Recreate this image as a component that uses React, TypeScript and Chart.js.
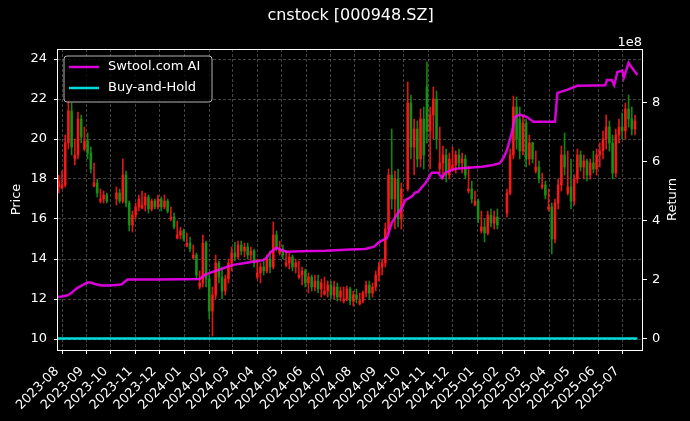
import React, { useEffect, useRef } from 'react';
import { Chart, registerables } from 'chart.js';

Chart.register(...registerables);

// ---- data ----
const TITLE = 'cnstock [000948.SZ]';
const MONTH_LABELS = [
  '2023-08', '2023-09', '2023-10', '2023-11', '2023-12', '2024-01', '2024-02', '2024-03',
  '2024-04', '2024-05', '2024-06', '2024-07', '2024-08', '2024-09', '2024-10', '2024-11',
  '2024-12', '2025-01', '2025-02', '2025-03', '2025-04', '2025-05', '2025-06', '2025-07',
];
// days since 2023-08-01 of each month start
const MONTH_DAYS = [
  0, 31, 61, 92, 122, 153, 184, 213, 244, 274, 305, 335,
  366, 397, 427, 458, 488, 519, 550, 578, 609, 639, 670, 700,
];
const PRICE_TICKS = [10, 12, 14, 16, 18, 20, 22, 24];
const RETURN_TICKS = [0, 2e8, 4e8, 6e8, 8e8];

// candles: one every 4 days starting at day -4 (null = market closed)
const CANDLE_START_DAY = -4;
const CANDLE_STEP_DAYS = 4;
const OPEN = [
  17.6, 17.55, 17.7, 19.8, 21.4, 19.0, 19.2, 21.0, 19.5, 19.9,
  19.3, 17.65, 17.8, 16.9, 17.0, 17.2, null, null, 17.0, 17.3,
  16.9, 18.2, 16.8, 15.7, 16.2, 16.6, 16.55, 16.7, 17.1, 16.5,
  16.9, 16.6, 17.0, 16.6, 16.9, 16.0, 16.1, 15.05, 15.2, 15.4,
  14.65, 14.8, 14.05, 14.2, 12.6, 12.8, 14.8, 13.0, 11.4, 12.2,
  13.8, 13.1, 12.4, 13.0, 13.8, 14.3, 14.1, 14.7, 14.4, 14.6,
  14.2, 14.4, 13.1, 13.3, 13.6, 13.4, 14.0, 13.6, 15.2, 14.3,
  14.5, 13.7, 13.8, 14.1, 13.6, 13.1, 13.2, 13.4, 12.8, 13.1,
  12.6, 12.9, 12.5, 12.25, 12.4, 12.7, 12.2, 12.6, 12.1, 11.9,
  12.0, 12.5, 11.9, 12.2, 11.75, 11.9, 12.3, 12.7, 12.3, 12.6,
  13.2, 13.6, 13.8, 15.5, 18.2, 17.0, 18.0, 16.0, null, 17.5,
  21.8, 19.6, 20.5, 19.0, 21.0, 22.6, 20.4, 21.2, 22.0, 18.5,
  18.8, 19.2, 18.2, 18.5, 18.7, 19.2, 18.8, 19.0, 17.4, 17.5,
  16.7, 16.9, 15.4, 15.6, 15.3, 16.2, 15.8, 16.1, null, null,
  16.3, 17.3, 19.2, 21.6, 21.0, 19.4, 20.8, 19.0, 19.8, 18.4,
  18.6, 17.6, 17.7, 16.5, 16.6, 15.0, 16.8, 17.7, 19.2, 17.3,
  17.6, 16.9, 18.0, 19.2, 18.6, 18.9, 18.2, 18.8, 18.5, 19.2,
  19.4, 20.0, 20.6, 19.8, 18.3, 20.2, 20.6, 20.4, 21.5, 21.0, 20.5,
];
const HIGH = [
  18.2, 18.4, 20.2, 22.0, 21.8, 20.0, 21.35, 21.2, 20.6, 20.3,
  19.6, 18.8, 18.0, 17.5, 17.4, 17.3, null, null, 17.6, 17.5,
  19.0, 18.4, 16.9, 16.4, 16.8, 17.2, 17.4, 17.3, 17.2, 17.0,
  17.0, 17.2, 17.1, 17.2, 17.0, 16.6, 16.3, 15.9, 15.6, 15.5,
  15.3, 15.1, 14.7, 14.3, 13.4, 15.2, 14.9, 13.2, 12.6, 14.2,
  13.9, 13.6, 13.2, 14.0, 14.6, 14.85, 14.9, 14.9, 14.8, 14.8,
  14.6, 14.5, 14.0, 13.8, 14.0, 14.2, 14.4, 15.85, 15.4, 14.9,
  14.7, 14.4, 14.3, 14.2, 14.0, 13.9, 13.6, 13.5, 13.3, 13.2,
  13.2, 13.2, 13.0, 13.1, 12.9, 12.9, 12.9, 12.8, 12.6, 12.6,
  12.65, 12.6, 12.4, 12.5, 12.3, 12.4, 12.9, 12.9, 12.8, 13.4,
  13.85, 14.0, 15.8, 18.5, 20.5, 18.4, 18.5, 17.8, null, 22.85,
  22.2, 21.0, 20.9, 21.5, 21.6, 23.85, 21.6, 22.6, 22.4, 20.6,
  19.65, 19.5, 19.3, 19.6, 19.4, 19.5, 19.3, 19.2, 18.65, 17.9,
  17.4, 17.0, 16.4, 16.0, 16.4, 16.5, 16.4, 16.5, null, null,
  17.5, 19.5, 22.15, 22.1, 21.6, 21.2, 21.0, 20.2, 19.85, 19.4,
  18.9, 18.3, 17.9, 17.5, 16.8, 17.0, 18.0, 19.65, 20.3, 19.4,
  19.0, 18.2, 19.5, 19.4, 19.2, 19.0, 19.0, 19.4, 19.5, 19.8,
  20.4, 21.2, 20.9, 20.2, 20.5, 21.0, 21.3, 21.8, 22.2, 21.6, 21.2,
];
const LOW = [
  17.3, 17.5, 17.6, 19.5, 19.2, 18.7, 19.0, 19.8, 19.4, 19.0,
  18.3, 17.6, 17.1, 16.8, 16.8, 16.8, null, null, 16.7, 16.8,
  16.8, 16.6, 15.4, 15.35, 16.0, 16.4, 16.5, 16.4, 16.3, 16.4,
  16.5, 16.5, 16.4, 16.5, 16.3, 15.9, 15.5, 15.0, 15.0, 14.9,
  14.6, 14.35, 14.0, 13.0, 12.5, 12.6, 12.6, 11.0, 10.15, 12.0,
  12.8, 12.0, 12.2, 12.8, 13.4, 13.9, 14.0, 14.2, 14.1, 14.0,
  13.9, 13.6, 13.0, 12.8, 13.2, 13.3, 13.3, 13.5, 14.4, 14.2,
  14.0, 13.6, 13.5, 13.4, 13.3, 13.0, 12.7, 12.6, 12.3, 12.4,
  12.4, 12.3, 12.1, 12.2, 12.1, 12.0, 12.0, 11.9, 11.9, 11.8,
  11.9, 11.7, 11.65, 11.8, 11.7, 11.8, 12.1, 12.0, 12.1, 12.4,
  12.9, 13.2, 13.6, 15.3, 16.5, 15.5, 15.6, 15.5, null, 17.4,
  19.0, 18.2, 18.6, 18.6, 18.5, 19.8, 18.5, 20.0, 19.5, 18.3,
  18.0, 17.85, 18.0, 18.4, 18.3, 18.5, 18.3, 18.0, 17.3, 16.8,
  16.65, 15.8, 15.3, 14.85, 15.2, 15.6, 15.5, 15.5, null, null,
  16.1, 17.2, 19.0, 19.5, 19.0, 19.2, 18.6, 18.7, 18.8, 18.3,
  17.8, 17.5, 17.0, 16.4, 14.25, 14.8, 16.5, 17.4, 18.2, 17.2,
  16.5, 16.7, 17.8, 18.4, 18.0, 17.9, 18.0, 18.3, 18.2, 18.6,
  19.0, 19.5, 19.4, 18.0, 18.1, 19.8, 20.0, 20.0, 20.6, 20.2, 20.2,
];
const CLOSE = [
  17.9, 17.7, 19.8, 21.4, 19.6, 19.2, 21.0, 20.1, 19.9, 19.3,
  18.5, 17.8, 17.3, 17.0, 17.2, 16.9, null, null, 17.3, 16.9,
  18.2, 16.8, 15.7, 16.2, 16.6, 17.0, 16.7, 17.1, 16.5, 16.9,
  16.6, 17.0, 16.6, 16.9, 16.4, 16.1, 15.6, 15.2, 15.4, 15.0,
  14.8, 14.5, 14.2, 13.2, 12.8, 14.8, 13.0, 11.4, 12.2, 13.8,
  13.1, 12.4, 13.0, 13.8, 14.3, 14.1, 14.7, 14.4, 14.6, 14.2,
  14.4, 13.8, 13.3, 13.6, 13.4, 14.0, 13.6, 15.2, 14.6, 14.5,
  14.2, 13.8, 14.1, 13.6, 13.8, 13.2, 13.4, 12.8, 13.1, 12.6,
  12.9, 12.5, 12.8, 12.4, 12.7, 12.2, 12.6, 12.1, 12.4, 12.0,
  12.5, 11.9, 12.2, 12.0, 11.9, 12.3, 12.7, 12.3, 12.6, 13.2,
  13.6, 13.8, 15.5, 18.2, 17.0, 18.0, 16.0, 17.5, null, 21.8,
  19.6, 20.5, 19.0, 21.0, 19.2, 20.4, 21.2, 22.0, 20.0, 18.8,
  19.2, 18.2, 19.0, 18.7, 19.2, 18.8, 19.0, 18.2, 17.5, 17.0,
  16.9, 16.0, 15.6, 15.3, 16.2, 15.8, 16.1, 15.7, null, null,
  17.3, 19.2, 21.6, 20.0, 19.4, 20.8, 19.0, 19.8, 19.0, 18.6,
  18.0, 17.7, 17.2, 16.6, 15.0, 16.8, 17.7, 19.2, 18.6, 17.6,
  16.9, 18.0, 19.2, 18.6, 18.9, 18.2, 18.8, 18.5, 19.2, 19.4,
  20.0, 20.6, 19.8, 18.3, 20.2, 20.6, 20.4, 21.5, 21.0, 20.5, 20.9,
];

// strategy return (x 1e8) by day
const AI_DAYS = [
  -5, 0, 7, 12, 16, 20, 26, 32, 36, 41, 49, 60, 74, 78, 82, 120, 150, 172, 178, 184,
  190, 197, 205, 214, 225, 239, 251, 256, 260, 268, 274, 281, 297, 330, 360, 379, 390, 395, 406, 412,
  420, 425, 429, 437, 441, 445, 450, 454, 458, 462, 470, 475, 479, 485, 491, 507, 525, 537, 547, 552,
  556, 562, 566, 572, 581, 589, 616, 619, 631, 644, 679, 681, 687, 690, 694, 700, 702, 708, 712, 719,
];
const AI_RETURN = [
  1.42, 1.43, 1.47, 1.55, 1.65, 1.73, 1.82, 1.9, 1.9, 1.85, 1.8, 1.8, 1.83, 1.92, 2.0, 2.0, 2.01, 2.02, 2.15, 2.22,
  2.28, 2.34, 2.42, 2.5, 2.55, 2.61, 2.66, 2.75, 2.92, 3.08, 3.0, 2.95, 2.96, 2.98, 3.02, 3.04, 3.12, 3.25, 3.42, 3.93,
  4.27, 4.45, 4.7, 4.82, 4.95, 4.98, 5.15, 5.27, 5.45, 5.63, 5.63, 5.45, 5.63, 5.7, 5.76, 5.8, 5.83, 5.88, 5.95, 6.15,
  6.4, 6.98, 7.52, 7.6, 7.52, 7.36, 7.36, 8.34, 8.44, 8.58, 8.6, 8.78, 8.78, 8.6, 9.05, 9.1, 8.85, 9.36, 9.2, 8.95,
];
// buy-and-hold return (plain multiple)
const BH_DAYS = [-5, 180, 420, 719];
const BH_RETURN = [1.0, 0.72, 1.02, 1.17];

// ---- styling ----
const FONT = '"DejaVu Sans", "Noto Sans", sans-serif';
const UP = 'rgba(255,25,25,0.88)';
const DOWN = 'rgba(20,150,20,0.88)';
const MAGENTA = 'rgba(255,0,255,0.85)';
const CYAN = 'rgba(0,255,255,0.85)';
const GRID = 'rgba(110,110,110,0.75)';

const decor = {
  id: 'decor',
  beforeDraw(chart: any) {
    const { ctx, width, height } = chart;
    ctx.save();
    ctx.fillStyle = '#000';
    ctx.fillRect(0, 0, width, height);
    ctx.restore();
  },
  afterDraw(chart: any) {
    const { ctx, chartArea: a } = chart;
    ctx.save();
    // spines
    ctx.strokeStyle = '#fff';
    ctx.lineWidth = 1;
    ctx.strokeRect(a.left - 0.5, a.top + 0.5, a.right - a.left, a.bottom - a.top);
    ctx.fillStyle = '#fff';
    // title
    ctx.font = `16px ${FONT}`;
    ctx.textAlign = 'center';
    ctx.textBaseline = 'middle';
    ctx.fillText(TITLE, (a.left + a.right) / 2, 16);
    // axis labels
    ctx.font = `13px ${FONT}`;
    const midY = (a.top + a.bottom) / 2;
    ctx.save();
    ctx.translate(17, midY);
    ctx.rotate(-Math.PI / 2);
    ctx.fillText('Price', 0, 0);
    ctx.restore();
    ctx.save();
    ctx.translate(673, midY);
    ctx.rotate(-Math.PI / 2);
    ctx.fillText('Return', 0, 0);
    ctx.restore();
    ctx.textAlign = 'right';
    ctx.textBaseline = 'alphabetic';
    ctx.fillText('1e8', a.right - 1, 46);
    // rotated month labels (right end of baseline just below-left of the tick)
    const xs = chart.scales.x;
    MONTH_DAYS.forEach((d, i) => {
      const px = xs.getPixelForValue(d);
      ctx.save();
      ctx.translate(px - 2.7, a.bottom + 21.7);
      ctx.rotate(-Math.PI / 4);
      ctx.textAlign = 'right';
      ctx.textBaseline = 'alphabetic';
      ctx.fillText(MONTH_LABELS[i], 0, 0);
      ctx.restore();
    });
    // legend
    const lx = 64, ly = 56, lw = 148, lh = 46, r = 3;
    ctx.beginPath();
    ctx.moveTo(lx + r, ly);
    ctx.lineTo(lx + lw - r, ly);
    ctx.arcTo(lx + lw, ly, lx + lw, ly + r, r);
    ctx.lineTo(lx + lw, ly + lh - r);
    ctx.arcTo(lx + lw, ly + lh, lx + lw - r, ly + lh, r);
    ctx.lineTo(lx + r, ly + lh);
    ctx.arcTo(lx, ly + lh, lx, ly + lh - r, r);
    ctx.lineTo(lx, ly + r);
    ctx.arcTo(lx, ly, lx + r, ly, r);
    ctx.closePath();
    ctx.fillStyle = 'rgba(0,0,0,0.8)';
    ctx.fill();
    ctx.strokeStyle = 'rgba(210,210,210,0.85)';
    ctx.lineWidth = 1;
    ctx.stroke();
    const entries = [
      { label: 'Swtool.com AI', color: MAGENTA, y: 67 },
      { label: 'Buy-and-Hold', color: CYAN, y: 88 },
    ];
    ctx.textAlign = 'left';
    ctx.textBaseline = 'middle';
    entries.forEach((e) => {
      ctx.strokeStyle = e.color;
      ctx.lineWidth = 2.5;
      ctx.beginPath();
      ctx.moveTo(69, e.y);
      ctx.lineTo(99, e.y);
      ctx.stroke();
      ctx.fillStyle = '#fff';
      ctx.fillText(e.label, 108, e.y);
    });
    ctx.restore();
  },
};

export default function App() {
  const ref = useRef<HTMLCanvasElement>(null);

  useEffect(() => {
    const canvas = ref.current;
    if (!canvas) return;
    const wick: any[] = [];
    const body: any[] = [];
    const colors: string[] = [];
    OPEN.forEach((o, i) => {
      const c = CLOSE[i];
      if (o == null || c == null) return;
      const x = CANDLE_START_DAY + i * CANDLE_STEP_DAYS;
      wick.push({ x, y: [LOW[i], HIGH[i]] });
      body.push({ x, y: [Math.min(o, c), Math.max(o, c)] });
      colors.push(c >= o ? UP : DOWN);
    });

    const tickFont = { family: FONT, size: 13 };

    const chart = new Chart(canvas, {
      type: 'bar',
      data: {
        datasets: [
          {
            type: 'line',
            label: 'Swtool.com AI',
            data: AI_DAYS.map((d, i) => ({ x: d, y: AI_RETURN[i] * 1e8 })),
            yAxisID: 'y2',
            borderColor: MAGENTA,
            borderWidth: 2.5,
            pointRadius: 0,
            tension: 0,
            order: 0,
          },
          {
            type: 'line',
            label: 'Buy-and-Hold',
            data: BH_DAYS.map((d, i) => ({ x: d, y: BH_RETURN[i] })),
            yAxisID: 'y2',
            borderColor: CYAN,
            borderWidth: 2.5,
            pointRadius: 0,
            tension: 0,
            order: 0,
          },
          {
            type: 'bar',
            label: 'body',
            data: body,
            yAxisID: 'y',
            backgroundColor: colors,
            borderWidth: 0,
            barThickness: 2,
            grouped: false,
            order: 1,
          },
          {
            type: 'bar',
            label: 'wick',
            data: wick,
            yAxisID: 'y',
            backgroundColor: colors,
            borderWidth: 0,
            barThickness: 1,
            grouped: false,
            order: 2,
          },
        ],
      } as any,
      options: {
        responsive: false,
        animation: false,
        events: [],
        layout: { padding: { top: 49, left: 0, right: 0, bottom: 0 } },
        plugins: {
          legend: { display: false },
          tooltip: { enabled: false },
          title: { display: false },
        },
        scales: {
          x: {
            type: 'linear',
            position: 'bottom',
            min: -5,
            max: 726,
            offset: false,
            afterBuildTicks: (s: any) => {
              s.ticks = MONTH_DAYS.map((v) => ({ value: v }));
            },
            afterFit: (s: any) => {
              s.height = 71;
            },
            ticks: { display: false, autoSkip: false },
            grid: {
              color: GRID,
              lineWidth: 0.8,
              offset: false,
              drawTicks: true,
              tickLength: 4,
              tickColor: '#fff',
              tickWidth: 1,
              tickBorderDash: [],
            },
            border: { display: false, dash: [3, 2] },
          },
          y: {
            type: 'linear',
            position: 'left',
            min: 9.45,
            max: 24.5,
            afterBuildTicks: (s: any) => {
              s.ticks = PRICE_TICKS.map((v) => ({ value: v }));
            },
            afterFit: (s: any) => {
              s.width = 58;
            },
            ticks: { color: '#fff', font: tickFont, padding: 7 },
            grid: {
              color: GRID,
              lineWidth: 0.8,
              drawTicks: true,
              tickLength: 4,
              tickColor: '#fff',
              tickWidth: 1,
              tickBorderDash: [],
            },
            border: { display: false, dash: [3, 2] },
          },
          y2: {
            type: 'linear',
            position: 'right',
            min: -0.39e8,
            max: 9.83e8,
            afterBuildTicks: (s: any) => {
              s.ticks = RETURN_TICKS.map((v) => ({ value: v }));
            },
            afterFit: (s: any) => {
              s.width = 47;
            },
            ticks: {
              color: '#fff',
              font: tickFont,
              padding: 5,
              callback: (v: any) => String(Math.round(Number(v) / 1e8)),
            },
            grid: {
              drawOnChartArea: false,
              drawTicks: true,
              tickLength: 4,
              tickColor: '#fff',
              tickWidth: 1,
              tickBorderDash: [],
            },
            border: { display: false },
          },
        },
      } as any,
      plugins: [decor],
    });

    return () => chart.destroy();
  }, []);

  return (
    <div style={{ position: 'fixed', left: 0, top: 0, width: 690, height: 421, background: '#000' }}>
      <canvas ref={ref} width={690} height={421} style={{ display: 'block' }} />
    </div>
  );
}
